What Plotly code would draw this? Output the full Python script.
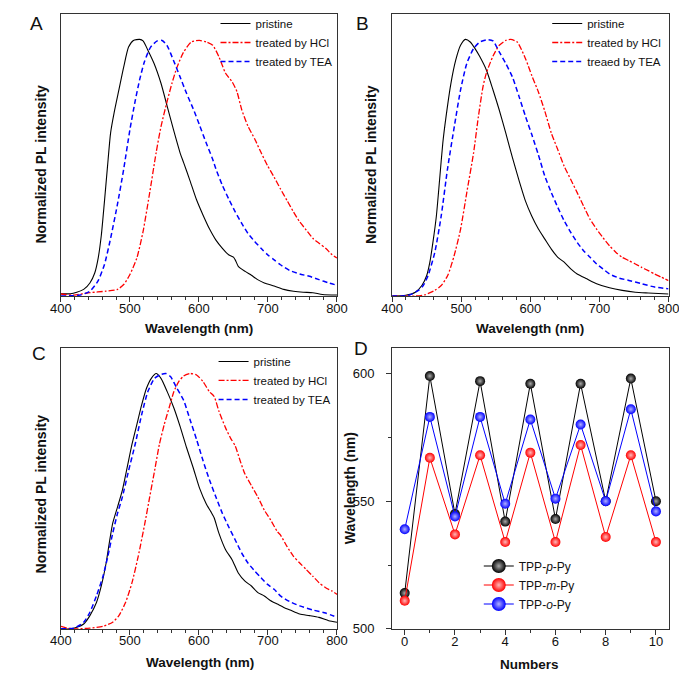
import plotly.graph_objects as go

# ---------------- Panel A ----------------
a_pristine_wl = [400, 414, 423, 433, 442, 449, 454, 458.6, 463, 467.6, 472, 477, 484, 491, 498, 505, 514, 519, 526, 535,
                 545, 554, 563, 573, 577.8, 587, 596.5, 606, 615, 624.6, 634, 643, 650, 652.6, 657, 667, 676, 685, 694.7, 709,
                 723, 737, 751, 765, 779, 800]
a_pristine_i = [0.009, 0.009, 0.015, 0.026, 0.051, 0.09, 0.148, 0.238, 0.366, 0.508, 0.636, 0.713, 0.803, 0.893, 0.97, 0.996, 1.0, 0.994, 0.958, 0.906,
                0.829, 0.739, 0.649, 0.555, 0.52, 0.45, 0.375, 0.315, 0.263, 0.218, 0.186, 0.161, 0.152, 0.141, 0.116, 0.096, 0.081, 0.064, 0.051, 0.039,
                0.026, 0.019, 0.015, 0.013, 0.006, 0.004]
a_hcl_wl = [400, 405, 419, 442, 465, 482, 491, 500, 510, 519, 528, 538, 545, 554, 561, 568, 577.6, 589, 600.5, 610.5,
            620, 629, 638.6, 648, 655, 662, 671, 681, 690, 699.4, 709, 718, 727.5, 737, 746, 755.6, 765, 774, 783.6, 793, 800]
a_hcl_i = [0.008, 0.006, 0.004, 0.013, 0.019, 0.026, 0.045, 0.084, 0.148, 0.251, 0.392, 0.559, 0.66, 0.76, 0.83, 0.89, 0.95, 0.99, 0.996, 0.99,
           0.977, 0.932, 0.868, 0.835, 0.797, 0.726, 0.662, 0.611, 0.559, 0.508, 0.463, 0.418, 0.373, 0.328, 0.289, 0.257, 0.225, 0.206, 0.186, 0.161, 0.148]
a_tea_wl = [400, 428, 442, 453.6, 463, 472, 481.6, 491, 500, 507, 514, 521, 530, 539.6, 546.6, 553.6, 563, 572.5, 582, 591.6,
            601, 610, 619.6, 624.6, 634, 643, 652.6, 662, 671, 681, 690, 699.4, 709, 718, 732, 746, 760, 774, 788, 800]
a_tea_i = [0, 0.004, 0.019, 0.058, 0.122, 0.225, 0.353, 0.495, 0.649, 0.752, 0.842, 0.913, 0.97, 0.994, 0.996, 0.977, 0.919, 0.855, 0.79, 0.73,
           0.665, 0.6, 0.535, 0.495, 0.431, 0.379, 0.328, 0.283, 0.244, 0.212, 0.186, 0.161, 0.141, 0.122, 0.099, 0.086, 0.077, 0.064, 0.051, 0.042]

# ---------------- Panel B ----------------
b_pristine_wl = [400, 419.6, 433.6, 443, 450, 454.6, 459, 464, 468.7, 473.3, 478, 485, 492, 499, 506, 513, 520, 527, 536.5, 546,
                 555, 564.5, 574, 583.7, 593, 602, 611.7, 621, 630.4, 639.8, 649, 658.5, 667.8, 681.8, 695.9, 714.6, 733, 752, 770.7, 800]
b_pristine_i = [0, 0.003, 0.015, 0.041, 0.08, 0.132, 0.209, 0.312, 0.454, 0.596, 0.699, 0.828, 0.919, 0.977, 1.0, 0.99, 0.964, 0.932, 0.88, 0.803,
                0.725, 0.635, 0.54, 0.45, 0.37, 0.312, 0.261, 0.222, 0.183, 0.151, 0.132, 0.106, 0.086, 0.067, 0.048, 0.032, 0.022, 0.015, 0.012, 0.008]
b_hcl_wl = [400, 433.6, 447.6, 461.7, 471, 480.4, 489.7, 499, 508, 517.8, 524.8, 531.8, 536.5, 546, 555, 564.5, 571.5, 581, 593, 602,
            611.7, 621, 630.4, 639.8, 649, 658.5, 667.8, 677, 686.5, 695.9, 705, 714.6, 724, 733, 742.6, 752, 761, 770.7, 780, 789.4, 800]
b_hcl_i = [0, 0, 0.005, 0.022, 0.041, 0.08, 0.157, 0.26, 0.403, 0.557, 0.699, 0.82, 0.87, 0.935, 0.977, 0.996, 1.0, 0.99, 0.925, 0.86,
           0.795, 0.72, 0.635, 0.57, 0.506, 0.454, 0.403, 0.351, 0.299, 0.261, 0.228, 0.196, 0.17, 0.151, 0.138, 0.125, 0.112, 0.099, 0.086, 0.074, 0.06]
b_tea_wl = [400, 424, 438, 445, 452, 461.7, 471, 480, 490, 499, 508, 517.8, 527, 538.8, 546, 555, 564.5, 574, 583.7, 593,
            602, 611.7, 621, 630.4, 639.8, 649, 658.5, 667.8, 677, 686.5, 695.9, 705, 714.6, 728.6, 742.6, 761, 780, 800]
b_tea_i = [0, 0.003, 0.022, 0.041, 0.08, 0.17, 0.312, 0.493, 0.661, 0.803, 0.906, 0.964, 0.99, 0.999, 0.994, 0.951, 0.906, 0.854, 0.777, 0.70,
           0.63, 0.55, 0.467, 0.403, 0.345, 0.293, 0.248, 0.209, 0.177, 0.151, 0.125, 0.106, 0.086, 0.07, 0.061, 0.048, 0.035, 0.028]

# ---------------- Panel C ----------------
c_pristine_wl = [400, 414, 423, 433, 442, 451.5, 458.5, 465.5, 470, 475, 482, 489, 496, 503, 510, 517, 524, 531, 538, 545,
                 554, 563.7, 573, 582, 591.8, 601, 610.5, 617, 622, 629, 638.6, 648, 657, 666.7, 676, 685.4, 694.7, 704, 713.5, 723,
                 732, 746, 760, 774, 788, 800]
c_pristine_i = [0, 0, 0.006, 0.019, 0.052, 0.103, 0.168, 0.258, 0.335, 0.413, 0.477, 0.542, 0.632, 0.723, 0.8, 0.877, 0.942, 0.981, 1.0, 0.981,
                0.929, 0.865, 0.79, 0.71, 0.63, 0.55, 0.49, 0.46, 0.435, 0.374, 0.31, 0.271, 0.219, 0.187, 0.168, 0.142, 0.129, 0.11, 0.097, 0.084,
                0.074, 0.058, 0.052, 0.045, 0.032, 0.026]
c_hcl_wl = [400, 409, 423, 442, 461, 475, 484, 493.6, 503, 512, 521.6, 528.6, 535.7, 542.7, 549.7, 556.7, 563.7, 570.7, 577.8, 587,
            596.5, 606, 615, 622, 629, 638.6, 645.6, 652.6, 659.7, 666.7, 676, 685.4, 694.7, 704, 713.5, 718, 727.5, 737, 746, 755.6,
            765, 774, 783.6, 793, 800]
c_hcl_i = [0.01, 0.003, 0, 0.003, 0.01, 0.026, 0.052, 0.103, 0.181, 0.284, 0.413, 0.516, 0.619, 0.723, 0.8, 0.865, 0.929, 0.968, 0.99, 1.0,
           0.994, 0.968, 0.929, 0.91, 0.852, 0.787, 0.748, 0.716, 0.658, 0.606, 0.561, 0.516, 0.465, 0.426, 0.381, 0.368, 0.323, 0.284, 0.258, 0.232,
           0.206, 0.181, 0.161, 0.148, 0.135]
c_tea_wl = [400, 419, 433, 442, 451.5, 461, 468, 475, 482, 489, 498, 507.6, 517, 526, 535.7, 545, 552, 559, 568, 577.8,
            587, 596.5, 606, 615, 624.6, 634, 643, 652.6, 662, 671, 681, 690, 699.4, 709, 718, 732, 746, 765, 783.6, 800]
c_tea_i = [0, 0.003, 0.026, 0.065, 0.129, 0.206, 0.284, 0.374, 0.452, 0.516, 0.619, 0.723, 0.839, 0.929, 0.981, 0.996, 1.0, 0.987, 0.942, 0.895,
           0.82, 0.742, 0.658, 0.585, 0.516, 0.452, 0.4, 0.348, 0.297, 0.258, 0.226, 0.2, 0.174, 0.155, 0.129, 0.106, 0.09, 0.074, 0.062, 0.045]

# ---------------- Panel D ----------------
d_numbers = [0, 1, 2, 3, 4, 5, 6, 7, 8, 9, 10]
d_p_py = [514, 599, 545, 597, 542, 596, 543, 596, 550, 598, 550]
d_m_py = [511, 567, 537, 568, 534, 569, 534, 572, 536, 568, 534]
d_o_py = [539, 583, 544, 583, 549, 582, 551, 580, 550, 586, 546]

labels_A = ["pristine", "treated by HCl", "treated by TEA"]
labels_B = ["pristine", "treated by HCl", "treaed by TEA"]
labels_C = ["pristine", "treated by HCl", "treated by TEA"]
labels_D = ["TPP-<i>p</i>-Py", "TPP-<i>m</i>-Py", "TPP-<i>o</i>-Py"]

FONT = "Liberation Sans, Arial, Helvetica, sans-serif"
W, H = 687, 677

def px(x):
    return x / W

def py(y):
    return 1 - y / H

styles = [
    dict(color="#000000", width=1.1, dash="solid"),
    dict(color="#ff0000", width=1.3, dash="6px,2px,2px,2px"),
    dict(color="#0000ff", width=1.5, dash="5px,3px"),
]

fig = go.Figure()

panels = [
    ("x", "y", "legend", labels_A, [(a_pristine_wl, a_pristine_i), (a_hcl_wl, a_hcl_i), (a_tea_wl, a_tea_i)]),
    ("x2", "y2", "legend2", labels_B, [(b_pristine_wl, b_pristine_i), (b_hcl_wl, b_hcl_i), (b_tea_wl, b_tea_i)]),
    ("x3", "y3", "legend3", labels_C, [(c_pristine_wl, c_pristine_i), (c_hcl_wl, c_hcl_i), (c_tea_wl, c_tea_i)]),
]
for xa, ya, lg, labs, series in panels:
    for (wl, inten), lab, st in zip(series, labs, styles):
        fig.add_trace(go.Scatter(x=wl, y=inten, mode="lines", name=lab, xaxis=xa, yaxis=ya,
                                 legend=lg, line=dict(color=st["color"], width=st["width"], dash=st["dash"],
                                                      shape="spline", smoothing=0.6)))

d_colors = [("#000000", "#a8a8a8"), ("#ff0000", "#ffb8b8"), ("#0000ff", "#b0b0ff")]
for vals, lab, (c, cc) in zip([d_p_py, d_m_py, d_o_py], labels_D, d_colors):
    fig.add_trace(go.Scatter(x=d_numbers, y=vals, mode="lines+markers", name=lab, xaxis="x4", yaxis="y4",
                             showlegend=False, line=dict(color=c, width=1),
                             marker=dict(size=10, color=c, line=dict(width=0),
                                         gradient=dict(type="radial", color=cc))))
# legend entries for panel D (larger symbol, as in the original legend)
for lab, (c, cc) in zip(labels_D, d_colors):
    fig.add_trace(go.Scatter(x=[None], y=[None], mode="lines+markers", name=lab, xaxis="x4", yaxis="y4",
                             legend="legend4", line=dict(color=c, width=1),
                             marker=dict(size=14, color=c, line=dict(width=0),
                                         gradient=dict(type="radial", color=cc))))

tickfont = dict(family=FONT, size=13, color="#111111")
axis_common = dict(showline=True, mirror=True, linecolor="#333333", linewidth=1, showgrid=False,
                   zeroline=False, tickfont=tickfont, ticks="outside", tickcolor="#333333")

spec_x = dict(axis_common, range=[400, 800], tick0=400, dtick=100, ticklen=5, ticklabelstandoff=-5,
              minor=dict(dtick=20, tick0=400, ticks="outside", ticklen=3, tickcolor="#333333"))
spec_y = dict(axis_common, range=[0, 1.1], showticklabels=False, ticks="")

dom_x_left = [px(43.3), px(328.5)]
dom_x_right = [px(385.5), px(671)]
dom_y_top = [py(291.5), py(5.8)]
dom_y_bot = [py(628.3), py(344)]

legend_common = dict(bgcolor="rgba(0,0,0,0)", borderwidth=0, xanchor="left", yanchor="top",
                     font=dict(family=FONT, size=11.5, color="#111111"), tracegroupgap=0)

fig.update_layout(
    width=W, height=H, margin=dict(l=0, r=0, t=0, b=0),
    paper_bgcolor="white", plot_bgcolor="white",
    font=dict(family=FONT, color="#111111"),
    xaxis=dict(spec_x, domain=dom_x_left, anchor="y"),
    yaxis=dict(spec_y, domain=dom_y_top, anchor="x"),
    xaxis2=dict(spec_x, domain=dom_x_right, anchor="y2"),
    yaxis2=dict(spec_y, domain=dom_y_top, anchor="x2"),
    xaxis3=dict(spec_x, domain=dom_x_left, anchor="y3"),
    yaxis3=dict(spec_y, domain=dom_y_bot, anchor="x3"),
    xaxis4=dict(axis_common, domain=dom_x_right, anchor="y4", range=[-0.5, 10.5], tick0=0, dtick=2, ticklen=5,
                ticklabelstandoff=-4,
                minor=dict(dtick=1, tick0=0, ticks="outside", ticklen=3, tickcolor="#333333")),
    yaxis4=dict(axis_common, domain=dom_y_bot, anchor="x4", range=[500, 610], tick0=500, dtick=50, ticklen=5,
                ticklabelstandoff=9,
                minor=dict(dtick=25, tick0=500, ticks="outside", ticklen=3, tickcolor="#333333")),
    legend=dict(legend_common, x=px(203), y=py(1)),
    legend2=dict(legend_common, x=px(545.7), y=py(1)),
    legend3=dict(legend_common, x=px(201), y=py(343)),
    legend4=dict(legend_common, x=px(475), y=py(550),
                 font=dict(family=FONT, size=12, color="#111111")),
    showlegend=True,
)

title_font = dict(family=FONT, size=13.5, color="#111111")
ytitle_font = dict(family=FONT, size=14, color="#111111")
annotations = [
    # axis titles
    dict(text="<b>Normalized PL intensity</b>", x=px(22.7), y=py(157.5), textangle=-90, font=ytitle_font),
    dict(text="<b>Wavelength (nm)</b>", x=px(186), y=py(324), font=title_font),
    dict(text="<b>Normalized PL intensity</b>", x=px(363), y=py(158.5), textangle=-90, font=ytitle_font),
    dict(text="<b>Wavelength (nm)</b>", x=px(528), y=py(324), font=title_font),
    dict(text="<b>Normalized PL intensity</b>", x=px(22.5), y=py(491.5), textangle=-90, font=ytitle_font),
    dict(text="<b>Wavelength (nm)</b>", x=px(186.5), y=py(662), font=title_font),
    dict(text="<b>Wavelength (nm)</b>", x=px(342), y=py(486), textangle=-90, font=ytitle_font),
    dict(text="<b>Numbers</b>", x=px(527), y=py(664), font=title_font),
    # panel letters
    dict(text="A", x=px(18), y=py(16), font=dict(family=FONT, size=19, color="#111111")),
    dict(text="B", x=px(355), y=py(16), font=dict(family=FONT, size=19, color="#111111")),
    dict(text="C", x=px(21), y=py(350), font=dict(family=FONT, size=19, color="#111111")),
    dict(text="D", x=px(353), y=py(345), font=dict(family=FONT, size=19, color="#111111")),
]
for a in annotations:
    a.update(xref="paper", yref="paper", showarrow=False, xanchor="center", yanchor="middle")
fig.update_layout(annotations=annotations)

fig.write_html("out.html")
